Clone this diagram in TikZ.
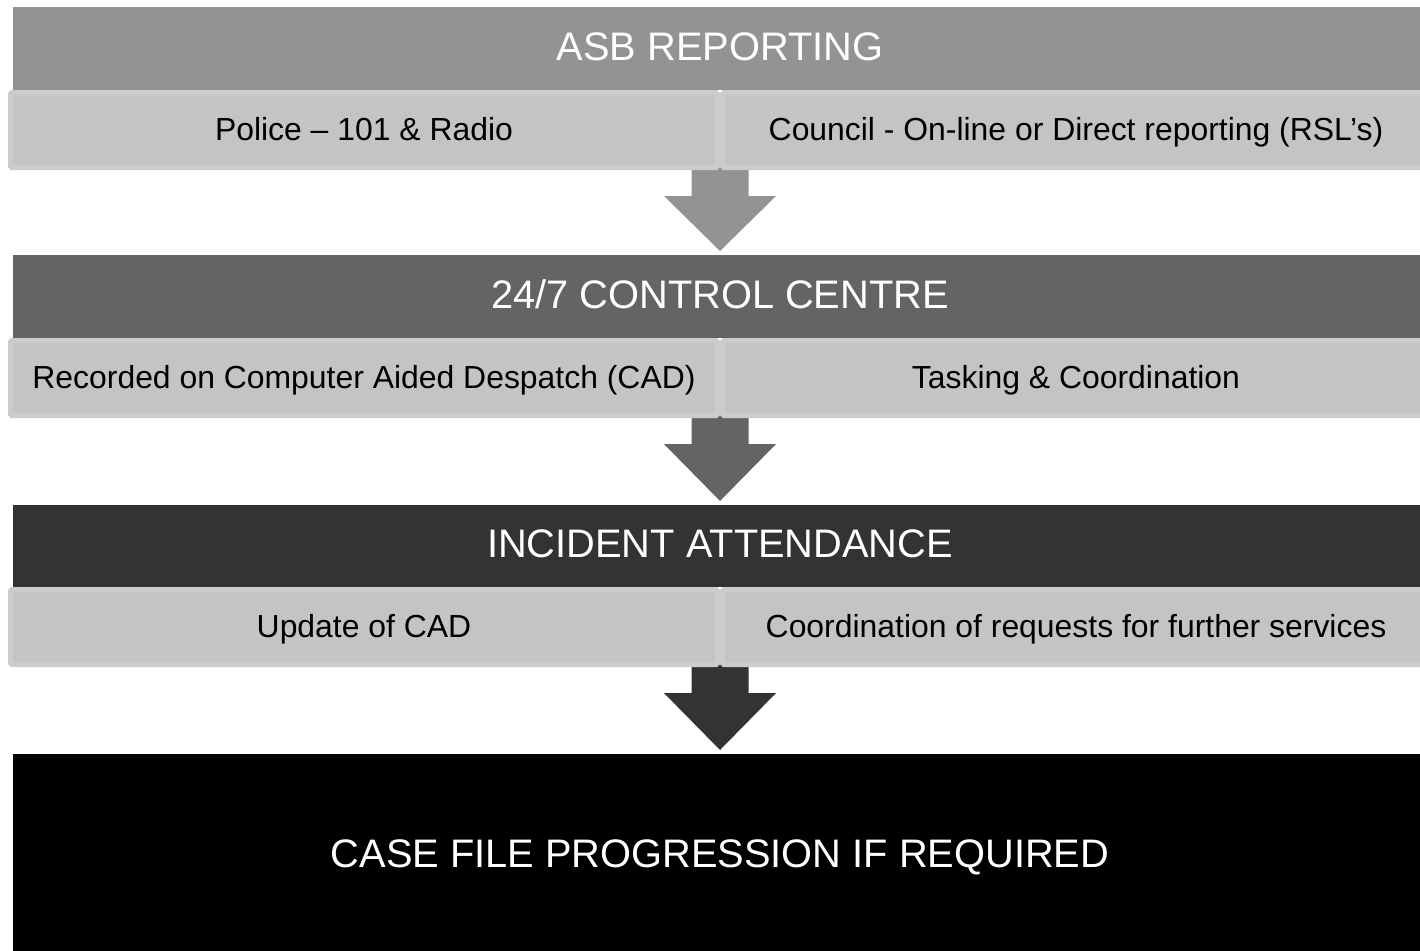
\documentclass[tikz,border=0pt]{standalone}
\usepackage{fontspec}
\setmainfont{Liberation Sans}
\usetikzlibrary{calc,backgrounds}
\definecolor{hA}{HTML}{939393}
\definecolor{hB}{HTML}{646464}
\definecolor{hC}{HTML}{333333}
\definecolor{subfill}{HTML}{C4C4C4}
\definecolor{subedge}{HTML}{CCCCCC}
\begin{document}
\begin{tikzpicture}[x=1pt,y=-1pt,
  header/.style={anchor=north west, minimum width=1414, minimum height=83,
    inner sep=0, outer sep=0, text=white, text height=28pt, text depth=5pt,
    font=\fontsize{39.8}{46}\selectfont},
  subbox/.style={anchor=north west, minimum width=707, minimum height=75,
    inner sep=0, outer sep=0, fill=subfill, draw=subedge, line width=5pt,
    rounded corners=1.5pt, text=black, text height=24pt, text depth=4pt,
    font=\fontsize{31.9}{38}\selectfont},
  bigarrow/.style={draw=none},
]
\useasboundingbox (0,0) rectangle (1420,950);

% stage 1
\node[header, fill=hA] (H1) at (13,7) {ASB REPORTING};
\node[subbox] (L1) at (10.5,92.5) {Police – 101 \& Radio};
\node[subbox] (R1) at (722.5,92.5) {Council - On-line or Direct reporting (RSL’s)};

% stage 2
\node[header, fill=hB] (H2) at (13,255) {24/7 CONTROL CENTRE};
\node[subbox] (L2) at (10.5,340.5) {Recorded on Computer Aided Despatch (CAD)};
\node[subbox] (R2) at (722.5,340.5) {Tasking \& Coordination};

% stage 3
\node[header, fill=hC, minimum height=82] (H3) at (13,505) {INCIDENT ATTENDANCE};
\node[subbox] (L3) at (10.5,589.5) {Update of CAD};
\node[subbox] (R3) at (722.5,589.5) {Coordination of requests for further services};

% final
\node[header, fill=black, minimum height=200] (H4) at (13,754) {};
\node[text=white, font=\fontsize{39.8}{46}\selectfont, inner sep=0,
  text height=30pt, text depth=0pt] (F4) at (720,852) {CASE FILE PROGRESSION IF REQUIRED};

\begin{scope}[on background layer]
\fill[bigarrow, hA] let \p1=(H1.south |- L1.south), \p2=(H2.north) in
  (\x1-28.5pt,\y1) -- (\x1+28.5pt,\y1) -- (\x1+28.5pt,\y1-28.5pt) -- (\x1+56pt,\y1-28.5pt)
  -- (\x1,\y2+4pt) -- (\x1-56pt,\y1-28.5pt) -- (\x1-28.5pt,\y1-28.5pt) -- cycle;
\fill[bigarrow, hB] let \p1=(H2.south |- L2.south), \p2=(H3.north) in
  (\x1-28.5pt,\y1) -- (\x1+28.5pt,\y1) -- (\x1+28.5pt,\y1-28.5pt) -- (\x1+56pt,\y1-28.5pt)
  -- (\x1,\y2+4pt) -- (\x1-56pt,\y1-28.5pt) -- (\x1-28.5pt,\y1-28.5pt) -- cycle;
\fill[bigarrow, hC] let \p1=(H3.south |- L3.south), \p2=(H4.north) in
  (\x1-28.5pt,\y1) -- (\x1+28.5pt,\y1) -- (\x1+28.5pt,\y1-28.5pt) -- (\x1+56pt,\y1-28.5pt)
  -- (\x1,\y2+4pt) -- (\x1-56pt,\y1-28.5pt) -- (\x1-28.5pt,\y1-28.5pt) -- cycle;
\end{scope}
\end{tikzpicture}
\end{document}
